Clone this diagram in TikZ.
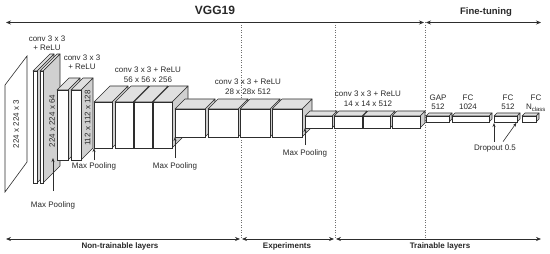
\documentclass[tikz,border=0pt]{standalone}
\usepackage{fontspec}
\setmainfont{Liberation Sans}
\usetikzlibrary{arrows.meta,positioning}
\definecolor{vggline}{RGB}{45,45,45}
\definecolor{vggtext}{RGB}{40,40,40}
\definecolor{vggtop}{RGB}{224,224,224}
\definecolor{vggside}{RGB}{208,208,208}
\definecolor{vggsep}{RGB}{110,110,110}

% box: x, y (front top-left, px), width, height, depth, name
\newcommand{\layerbox}[6]{%
  \filldraw[layerside] (#1+#3,#2) -- ++(#5,-#5) -- ++(0,#4) -- ++(-#5,#5) -- cycle;
  \filldraw[layertop] (#1,#2) -- ++(#5,-#5) -- ++(#3,0) -- ++(-#5,#5) -- cycle;
  \node[layerfront, minimum width=#3pt, minimum height=#4pt] (#6) at (#1,#2) {};
}

\begin{document}
\begin{tikzpicture}[
      x=1pt, y=-1pt,
      lbl/.style={font=\fontsize{8}{10}\selectfont, text=vggtext, align=center, inner sep=0pt},
      head/.style={font=\bfseries\fontsize{8}{10}\selectfont, text=vggtext, inner sep=0pt},
      layerfront/.style={draw=vggline, fill=white, line width=0.6pt, inner sep=0pt, outer sep=0pt, anchor=north west},
      layertop/.style={draw=vggline, fill=vggtop, line width=0.6pt, line join=round},
      layerside/.style={draw=vggline, fill=vggside, line width=0.6pt, line join=round},
      arr/.style={-{Stealth[length=4pt, width=3pt]}, line width=0.6pt, color=vggline},
      span/.style={{Stealth[length=5pt, width=4pt]}-{Stealth[length=5pt, width=4pt]}, line width=0.7pt, color=vggline},
      sepline/.style={dotted, line width=0.5pt, color=vggsep}
    ]
      \useasboundingbox (0,0) rectangle (550,254);

      % separators and spans
      \coordinate (s1t) at (241,22.5);  \coordinate (s1b) at (241,239);
      \coordinate (s2t) at (335,22.5);  \coordinate (s2b) at (335,239);
      \coordinate (s3t) at (425,22.5);  \coordinate (s3b) at (425,239);
      \coordinate (topl) at (6,22.5);   \coordinate (topr) at (541,22.5);
      \coordinate (botl) at (6,239);    \coordinate (botr) at (541,239);

      \draw[sepline] (s1t) -- (s1b);
      \draw[sepline] (s2t) -- (s2b);
      \draw[sepline] (s3t) -- (s3b);

      \draw[span] (topl) -- ([xshift=-1pt]s3t);
      \draw[span] ([xshift=1pt]s3t) -- (topr);
      \draw[span] (botl) -- ([xshift=-1pt]s1b);
      \draw[span] ([xshift=1pt]s1b) -- ([xshift=-1pt]s2b);
      \draw[span] ([xshift=1pt]s2b) -- (botr);

      \node[head, font=\bfseries\fontsize{12}{14}\selectfont] (vgg) at (215,10) {VGG19};
      \node[head, font=\bfseries\fontsize{9.5}{11}\selectfont] (ft) at (486,12) {Fine-tuning};
      \node[head] (nontr) at (120,246.5) {Non-trainable layers};
      \node[head] (exper) at (287,246.5) {Experiments};
      \node[head] (train) at (440,246.5) {Trainable layers};

      % 0. Input
      \draw[layerfront] (5,85) -- (27,56) -- (27,162) -- (5,192) -- cycle;
      \node[lbl, rotate=90] (inp) at (16,124) {224 x 224 x 3};

      % 1. Block 64
      \layerbox{33}{71}{4}{112}{17}{b1a}
      \layerbox{40}{71}{3}{112}{17}{b1b}
      \node[lbl, rotate=90] (dim1) at (52,121) {224 x 224 x 64};
      \node[lbl, font=\fontsize{8}{9}\selectfont] (conv1) at (47,43.5) {conv 3 x 3\\+ ReLU};

      % 2. Block 128
      \layerbox{57}{90}{11}{70}{12}{b2a}
      \layerbox{71}{90}{10}{70}{12}{b2b}
      \node[lbl, rotate=90] (dim2) at (87.5,118) {112 x 112 x 128};
      \node[lbl, font=\fontsize{8}{9}\selectfont] (conv2) at (82,62.5) {conv 3 x 3\\+ ReLU};

      % 3. Block 256
      \layerbox{94}{102}{18}{46}{16}{b3a}
      \layerbox{115}{102}{18}{46}{16}{b3b}
      \layerbox{134}{102}{18}{46}{16}{b3c}
      \layerbox{153}{102}{19}{46}{16}{b3d}
      \node[lbl] (conv3) at (148,74.5) {conv 3 x 3 + ReLU\\56 x 56 x 256};

      % 4. Block 512 (28)
      \layerbox{175}{109}{30}{28}{10}{b4a}
      \layerbox{208}{109}{30}{28}{10}{b4b}
      \layerbox{240}{109}{30}{28}{10}{b4c}
      \layerbox{272}{109}{30}{28}{10}{b4d}
      \node[lbl] (conv4) at (248,87) {conv 3 x 3 + ReLU\\28 x 28x 512};

      % 5. Block 512 (14)
      \layerbox{305}{116}{27}{12}{5}{b5a}
      \layerbox{334}{116}{28}{12}{5}{b5b}
      \layerbox{363}{116}{27}{12}{5}{b5c}
      \layerbox{392}{116}{28}{12}{5}{b5d}
      \node[lbl] (conv5) at (368,98.5) {conv 3 x 3 + ReLU\\14 x 14 x 512};

      % 6. Head
      \layerbox{426}{116}{23}{6}{3}{gap}
      \layerbox{452}{116}{37}{6}{3}{fca}
      \layerbox{494}{116}{23}{6}{3}{fcb}
      \layerbox{522}{116}{14}{6}{3}{fcc}
      \node[lbl, font=\fontsize{8}{9}\selectfont] (gapl) at (438,102.5) {GAP\\512};
      \node[lbl, font=\fontsize{8}{9}\selectfont] (fcal) at (468,102.5) {FC\\1024};
      \node[lbl, font=\fontsize{8}{9}\selectfont] (fcbl) at (508,102.5) {FC\\512};
      \node[lbl, font=\fontsize{8}{9}\selectfont] (fccl) at (536,103) {FC\\N\textsubscript{class}};

      % pooling and dropout marks
      \coordinate (mp1tip) at (53,158);
      \node[lbl] (mp1) at (53,205) {Max Pooling};
      \node[lbl] (mp2) at (94,166) {Max Pooling};
      \node[lbl] (mp3) at (175,166) {Max Pooling};
      \node[lbl] (mp4) at (305,153) {Max Pooling};
      \node[lbl] (drop) at (495,148.5) {Dropout 0.5};

      \draw[arr] ([yshift=10pt]mp1.north) -- (mp1tip);
      \draw[arr] ([yshift=2pt]mp2.north) -- (b3a.south west);
      \draw[arr] ([yshift=4pt]mp3.north) -- (b4a.south west);
      \draw[arr] ([yshift=4pt]mp4.north) -- (b5a.south west);
      \draw[arr, shorten >=1pt] ([xshift=-1pt,yshift=3pt]drop.north) -- (fcb.south west);
      \draw[arr, shorten >=1pt] ([xshift=8pt,yshift=3pt]drop.north) -- (fcb.south east);
    \end{tikzpicture}
\end{document}
